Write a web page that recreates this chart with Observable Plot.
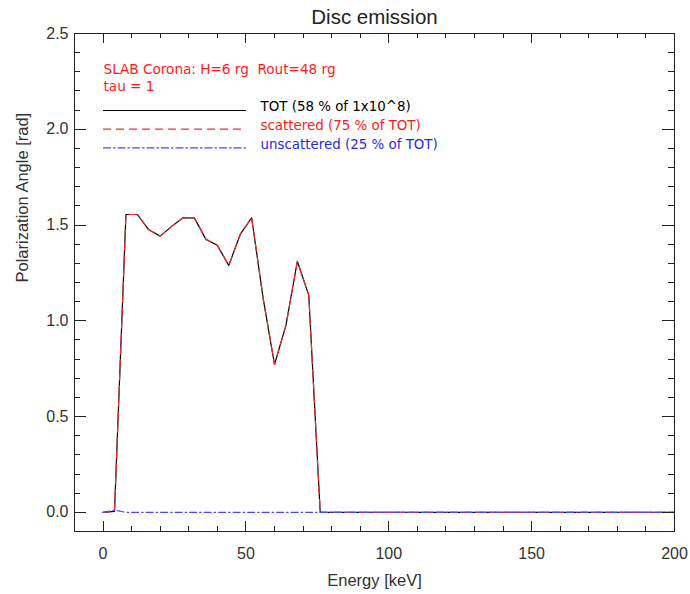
<!DOCTYPE html>
<html>
<head>
<meta charset="utf-8">
<script src="https://cdn.jsdelivr.net/npm/d3@7"></script>
<script src="https://cdn.jsdelivr.net/npm/@observablehq/plot@0.6"></script>
<style>
  body { margin: 0; background: #fff; }
  #chart svg { display: block; }
</style>
</head>
<body>
<div id="chart"></div>
<script>
// Energy grid (keV)
const energy = [0, 4, 8, 12, 16, 20, 24, 28, 32, 36, 40, 44, 48, 52, 56, 60, 64, 68, 72, 76,
  80, 84, 88, 92, 96, 100, 104, 108, 112, 116, 120, 124, 128, 132, 136, 140, 144, 148, 152,
  156, 160, 164, 168, 172, 176, 180, 184, 188, 192, 196, 200];

// Polarization angle (rad), total photons
const totAngle = [0, 0.005, 1.555, 1.555, 1.475, 1.442, 1.493, 1.538, 1.536, 1.425, 1.394, 1.289,
  1.451, 1.538, 1.12, 0.772, 0.976, 1.311, 1.133, 0,
  0, 0, 0, 0, 0, 0, 0, 0, 0, 0, 0, 0, 0, 0, 0, 0, 0, 0, 0, 0, 0, 0, 0, 0, 0, 0, 0, 0, 0, 0, 0];

// Polarization angle (rad), scattered photons
const scatAngle = [0, 0.005, 1.555, 1.555, 1.475, 1.442, 1.493, 1.538, 1.536, 1.425, 1.394, 1.289,
  1.451, 1.538, 1.12, 0.772, 0.976, 1.311, 1.133, 0,
  0, 0, 0, 0, 0, 0, 0, 0, 0, 0, 0, 0, 0, 0, 0, 0, 0, 0, 0, 0, 0, 0, 0, 0, 0, 0, 0, 0, 0, 0, 0];

// Polarization angle (rad), unscattered photons
const unscatAngle = [0, 0.012, 0, 0, 0, 0, 0, 0, 0, 0, 0, 0, 0, 0, 0, 0, 0, 0, 0, 0,
  0, 0, 0, 0, 0, 0, 0, 0, 0, 0, 0, 0, 0, 0, 0, 0, 0, 0, 0, 0, 0, 0, 0, 0, 0, 0, 0, 0, 0, 0, 0];

// Axis ticks
const xMajorTicks = [0, 50, 100, 150, 200];
const xMinorTicks = [-10, 10, 20, 30, 40, 60, 70, 80, 90, 110, 120, 130, 140, 160, 170, 180, 190];
const yMajorTicks = [0, 0.5, 1, 1.5, 2, 2.5];
const yMinorTicks = [-0.1, 0.1, 0.2, 0.3, 0.4, 0.6, 0.7, 0.8, 0.9, 1.1, 1.2, 1.3, 1.4,
  1.6, 1.7, 1.8, 1.9, 2.1, 2.2, 2.3, 2.4];

// Titles, annotation and legend text
const chartTitle = "Disc emission";
const xTitle = "Energy [keV]";
const yTitle = "Polarization Angle [rad]";
const headerLines = ["SLAB Corona: H=6 rg\u00a0\u00a0Rout=48 rg", "tau = 1"];
const legendRows = [
  {label: "TOT (58 % of 1x10^8)", color: "#000000", text: "#000000", dash: null},
  {label: "scattered (75 % of TOT)", color: "#ff2828", text: "#ff1a1a", dash: "7,6"},
  {label: "unscattered (25 % of TOT)", color: "#4848ff", text: "#2828e6", dash: "7,3,1.5,3"}
];

const series = energy.map((e, i) => ({e, tot: totAngle[i], scat: scatAngle[i], unscat: unscatAngle[i]}));

const W = 690, H = 594;
const M = {top: 33, right: 16, bottom: 63, left: 74};
const xDomain = [-10, 200], yDomain = [-0.1, 2.5];

const axisColor = "#222";
const labelFont = "Liberation Sans, Arial, Helvetica, sans-serif";
const noteFont = "DejaVu Sans, sans-serif";

// Inward ticks on all four frame edges, placed with the plot's own x and y scales
function tickLayer(index, scales, values, dimensions) {
  const sx = scales.x, sy = scales.y;
  const left = dimensions.marginLeft, right = dimensions.width - dimensions.marginRight;
  const top = dimensions.marginTop, bottom = dimensions.height - dimensions.marginBottom;
  const g = d3.create("svg:g")
    .attr("aria-label", "frame ticks")
    .attr("stroke", axisColor)
    .attr("stroke-width", 1)
    .attr("fill", "none");
  for (const [vals, len] of [[xMajorTicks, 10], [xMinorTicks, 5]]) {
    for (const v of vals) {
      const px = Math.round(sx(v)) + 0.5;
      g.append("line").attr("x1", px).attr("x2", px).attr("y1", bottom).attr("y2", bottom - len);
      g.append("line").attr("x1", px).attr("x2", px).attr("y1", top).attr("y2", top + len);
    }
  }
  for (const [vals, len] of [[yMajorTicks, 12], [yMinorTicks, 6]]) {
    for (const v of vals) {
      const py = Math.round(sy(v)) + 0.5;
      g.append("line").attr("y1", py).attr("y2", py).attr("x1", left).attr("x2", left + len);
      g.append("line").attr("y1", py).attr("y2", py).attr("x1", right).attr("x2", right - len);
    }
  }
  return g.node();
}

// A plain straight stroke (no arrowhead) for legend samples
const flatLine = {draw(context, l) { context.moveTo(0, 0); context.lineTo(0, -l); }};
const legendX = 29, legendTextX = 186, legendLineLen = 142;

const marks = [
  // tick labels
  Plot.text(xMajorTicks, {x: (d) => d, text: d3.format("d"), frameAnchor: "bottom", lineAnchor: "middle",
    dy: 22, fontSize: 16, fontFamily: labelFont, fill: "#333"}),
  Plot.text(yMajorTicks, {y: (d) => d, text: d3.format(".1f"), frameAnchor: "left", textAnchor: "end",
    lineAnchor: "middle", dx: -6, fontSize: 16, fontFamily: labelFont, fill: "#333"}),
  // axis titles
  Plot.text([xTitle], {frameAnchor: "bottom", lineAnchor: "middle", dy: 49, fontSize: 16.5,
    fontFamily: labelFont, fill: "#333"}),
  Plot.text([yTitle], {frameAnchor: "left", lineAnchor: "middle", rotate: -90, dx: -52, fontSize: 16.5,
    fontFamily: labelFont, fill: "#333"}),
  // curves
  Plot.line(series, {x: "e", y: "tot", stroke: "#000", strokeWidth: 1.2}),
  Plot.line(series, {x: "e", y: "scat", stroke: "#ff2828", strokeWidth: 1.2, strokeDasharray: "7,6"}),
  Plot.line(series, {x: "e", y: "unscat", stroke: "#4848ff", strokeWidth: 1.2, strokeDasharray: "7,3,1.5,3"}),
  // title
  Plot.text([chartTitle], {frameAnchor: "top", lineAnchor: "bottom", dy: -10, fontSize: 20.5,
    fontFamily: labelFont, fill: "#222"}),
  // header notes
  ...headerLines.map((t, i) => Plot.text([t], {frameAnchor: "top-left", lineAnchor: "bottom",
    dx: legendX, dy: 40 + i * 17, textAnchor: "start", fontSize: 13.6, fontFamily: noteFont, fill: "#ff1a1a"})),
  // legend samples and labels
  ...legendRows.flatMap((r, i) => [
    Plot.vector([r], {frameAnchor: "top-left", dx: legendX, dy: 77 + i * 18.7, length: legendLineLen,
      rotate: 90, anchor: "start", shape: flatLine, stroke: r.color, strokeWidth: 1.2,
      strokeDasharray: r.dash ?? undefined}),
    Plot.text([r.label], {frameAnchor: "top-left", lineAnchor: "bottom", dx: legendTextX, dy: 77 + i * 19,
      textAnchor: "start", fontSize: 13.4, fontFamily: noteFont, fill: r.text})
  ]),
  // frame and ticks on top
  Plot.frame({stroke: "#222"}),
  tickLayer
];

const chart = Plot.plot({
  width: W,
  height: H,
  marginLeft: M.left,
  marginRight: M.right,
  marginTop: M.top,
  marginBottom: M.bottom,
  style: {fontFamily: labelFont, background: "#fff", overflow: "visible"},
  x: {domain: xDomain, axis: null},
  y: {domain: yDomain, axis: null},
  marks
});

document.getElementById("chart").appendChild(chart);
</script>
</body>
</html>
